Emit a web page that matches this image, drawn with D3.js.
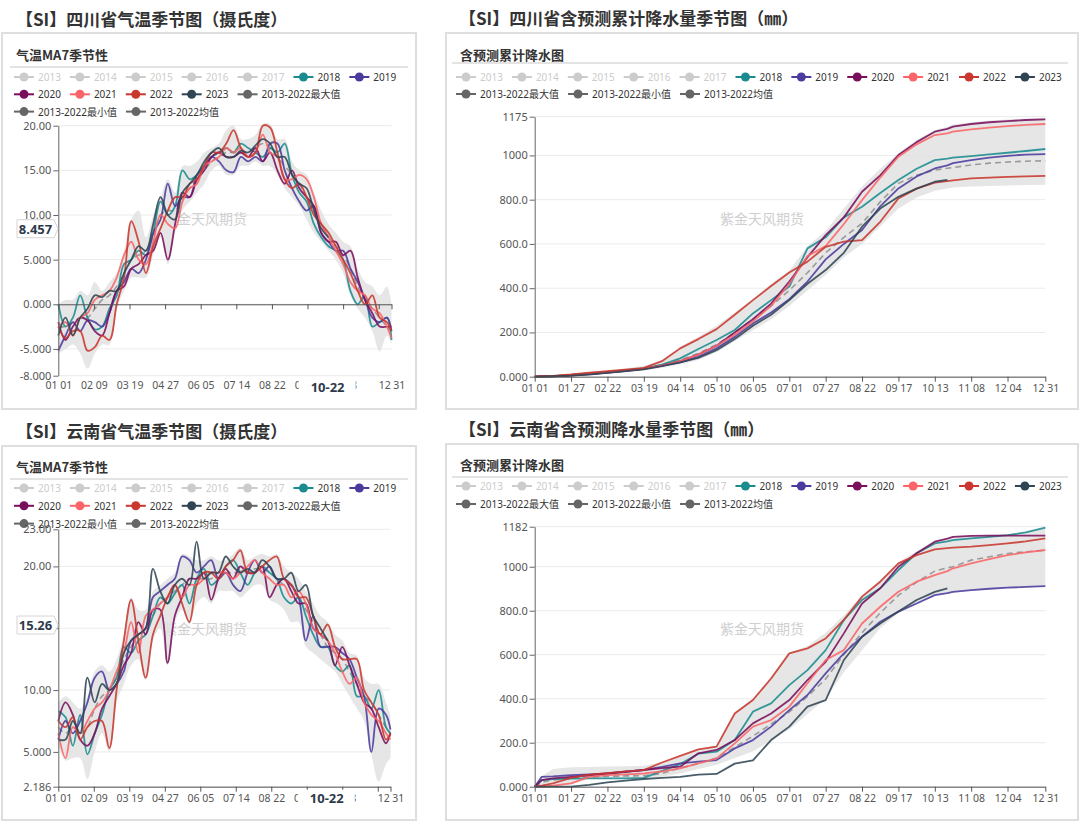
<!DOCTYPE html>
<html><head><meta charset="utf-8">
<script src="https://cdn.jsdelivr.net/npm/d3@7"></script>
<style>
body{margin:0;background:#fff;}
svg{display:block;font-family:"Noto Sans","Noto Sans CJK SC",sans-serif;}
</style>
</head><body>
<svg id="chart" width="1080" height="823"></svg>
<script>
// ---------------- DATA ----------------
const legendNames = ["2013","2014","2015","2016","2017","2018","2019","2020","2021","2022","2023","2013-2022最大值","2013-2022最小值","2013-2022均值"];
const hiddenNames = ["2013","2014","2015","2016","2017"];
const yearNames = ["2018","2019","2020","2021","2022","2023"];

// temperature: day-of-year samples (leap-year calendar, 0 = 01-01)
const tempDays = [0,8,16,24,32,40,48,56,64,72,80,88,96,104,112,120,128,136,144,152,160,168,176,184,192,200,208,216,224,232,240,248,256,264,272,280,288,296,304,312,320,328,336,344,352,360,365];

// Sichuan temperature MA7 (°C)
const scT2018 = [0,-2.5,-1.5,1,-1.5,-2.8,-2.5,-0.5,1,4.5,5,6,5.5,8,11.5,10,11,15,14,14.5,15.5,16.5,17,17.5,17,18,17.5,17,16.5,17.5,17,18,14.5,12.5,11.5,9,7.5,6.5,6,5,1.5,0,1,-2.5,-2,-1.5,-4];
const scT2019 = [-5.2,-3.5,-2,-3,-1.8,-2,-2.5,-1,1.5,2.5,4,3.5,5,8,9.5,13.5,11,12,12,14.5,15.5,16.5,16,15,14.8,16.5,16,16.5,16,18,18,15,13,11.5,10.5,11,8,7,6,6,4,2.5,0.5,-1.5,-2,-1.5,-3];
const scT2020 = [-2,-4,-2.5,-1.5,-1.8,-3,-3.5,-1,1.5,2,4,4.5,5.5,6,8,5,9,12.5,12,14,15,16.5,17,16.5,16.5,17,16.5,17.5,16,17,15,13.5,15,13,12,11,8,7,7,5.5,6,3,0.5,-1,-2.5,-2.5,-2.5];
const scT2021 = [-2.5,-2,-3.5,-1.5,-1,0.5,1,1.5,3,5.5,7,5,4.5,7,10,9,8.5,11.5,13,13.5,15.5,16,16.5,17.5,17,17.5,16.5,17,19,17,16.5,14,14,14.5,14,12,9,7.5,6,4.5,2.5,1.5,1,-0.5,-1,-2.5,-3.8];
const scT2022 = [-2.5,-3.8,-3,-3,-5.2,-4.8,-3.5,-4,0,3,9.3,7,3.5,6.5,8.5,10.5,12,12,13.5,14,15.5,17,17,18,19.5,17.5,16.5,17,20,19.8,17,14,13,13.5,12,10,9,8,6.5,5,3.5,1.5,0,1,-1.5,-2,-3];
const scT2023 = [-3.5,-1.5,-3.5,-1.5,-0.5,1,0.8,1.5,1.5,3.5,5,6.5,6,9,12,10,9.5,12.5,13.5,14.5,16,17,17.5,16.5,16.5,17.2,17,17.8,18.5,18,16.5,16.5,14.5,13.5,13,10.5,8.5,7.5,null,null,null,null,null,null,null,null,null];
const scTMax = [0,0.5,0.5,1.5,1,2.5,1.5,2.5,3.5,6,9.5,10.5,7.5,10,12,14,12.5,15.5,15.5,16,17,17.5,18,19.5,20,18.5,18.5,19,20.2,20.2,18.5,18.5,16,15,14.5,12.5,10.5,9,8,7,6.5,4,2.5,2,1,2,0];
const scTMin = [-5.5,-5,-4.5,-5.5,-7.2,-5.5,-4.5,-4.5,-0.5,1.5,3,3,3,5.5,7.5,4.5,8,10.5,11.5,12.5,13.5,15,15.5,14.5,14.5,15.5,15.5,16,15.5,15.5,14.5,13,12,11,9.5,8,7,6,5,3.5,1,-0.5,-1.5,-3,-5.3,-3.5,-4.5];
const scTMean = [-2.5,-2.5,-2,-1.5,-1.5,-0.5,0.5,1,2,3.5,5,5.5,6,7.5,10,10.5,10.5,12,13,14,15,16,16.5,17,17,17,17,17.5,18,17.5,16.5,15.5,14.5,13.5,12,10.5,9,7.5,6.5,5.5,4,2,0.5,-0.5,-1.5,-2.5,-3];

// Yunnan temperature MA7 (°C)
const ynT2018 = [8.3,7.8,5.5,8,4.8,6.5,8,10,11,13.5,13,14,14.5,16,17.5,17,17.8,18.5,17,19,19.8,18.5,19,20,20.5,19.5,18.5,19.5,20,19.5,19,17.5,17,17.5,16,14.5,13.5,13.5,12,11.5,12,9.5,9.5,8.5,10,7,6.5];
const ynT2019 = [6,7.5,6.5,7.5,9,11,11.5,10,10.5,11.5,14,14.5,15,17.5,18,18.5,19,20.8,20.5,19.5,20,20.5,19,19.5,18.5,18,19.5,20.5,19.5,20,19,19,18.5,17.5,14,16,13.5,13.5,13.5,13,12.5,11,9.5,5,8.5,8,6.8];
const ynT2020 = [7.5,9,8,6,5.5,6.5,8.5,9.5,10.5,12,13,15.5,14.5,16.5,16.5,12.2,16,17.5,19,19,19.5,17.3,19,19.8,19,20,19.5,19.5,20,17.5,18.5,19,18,17,17,15,14.5,14,12,13.5,12,10.5,9,8.5,7,5.7,6.5];
const ynT2021 = [6.5,4.5,7,6.5,7.5,8.5,9,10,11.5,13,15.5,13,16,16.5,17,17.5,18.5,17.5,18.5,18.5,19,19.5,19.5,19.5,19,19.5,20,20.5,19.5,19,18.5,18.5,17.5,18,17,15,14.5,14,13,11.5,10.5,11,9,8,7.5,6.5,6];
const ynT2022 = [7.5,7,7.8,6,7,7.5,7.5,5.3,10,14,17.3,14,11,14.5,16,17.5,18.5,17,15.5,18.5,19.5,19.5,19,20,20.5,21.3,19.5,19.5,20,20.5,20.8,19,18.5,17.5,17.5,16,14.5,15.3,13.5,12.5,12.5,12.5,10,9,8,6,6.5];
const ynT2023 = [6,6,7.5,6.5,11,9,10.5,10,10.5,13,14,14.5,15,19.8,18,17,18.5,19,18.5,22,19,19.5,19.5,20.8,20,19.5,19.8,19.5,20.5,20,19,19,19.5,18,18.5,16,15,14,null,null,null,null,null,null,null,null,null];
const ynTMax = [9,9.5,9,8.5,9.5,11.5,12,11.5,12.5,14.5,17.5,16.5,16.5,18,18.5,19,19.5,21,20.8,20.5,20.5,20.8,20.5,20.5,21,21.5,20.5,20.8,21,20.8,21,20,19.5,19,18,17,16,15.5,14.5,14,13,12.8,11,10.5,10.5,9,8];
const ynTMin = [5.5,4.3,4.5,4.5,2.8,5,6.5,5,9,10.5,12,12.5,10.8,14,15,12,15.5,16.5,15.3,17,17.5,17,18,18,18,17.5,18,18.5,18.5,17.3,17,16.5,15.5,15.5,13.5,13,12.5,12,11.5,10.5,9.5,8.5,7.5,4.8,2.6,4,4.5];
const ynTMean = [7,6.5,7,6.5,7,8.5,9.5,10,11,12.5,13.5,14.5,15,16,17,17.5,18,18.5,19,19,19,19,19.5,19.5,19.5,19.5,19.5,19.8,19.8,19.5,19,18.5,18.5,17.5,16.5,15.5,14.5,13.5,13,12.5,11.5,10.5,9.5,9,8,7,6.5];

// cumulative precipitation: day samples
const precDays = [0,5,13,26,39,52,65,78,91,104,117,130,143,156,169,182,195,208,221,234,247,260,273,286,295,299,312,325,338,351,365];

// Sichuan cumulative precipitation (mm)
const scP2018 = [0,1,3,8,15,22,30,38,55,83,125,166,211,286,346,407,580,630,720,768,830,889,940,979,986,990,997,1005,1012,1020,1029];
const scP2019 = [0,1,2,6,12,18,25,35,50,65,90,128,180,240,290,350,430,530,600,663,770,851,905,941,955,965,979,990,998,1004,1006];
const scP2020 = [0,1,2,5,12,18,27,36,50,70,100,140,200,260,330,430,540,640,720,836,910,1002,1060,1107,1120,1130,1142,1150,1155,1160,1163];
const scP2021 = [0,1,3,8,14,20,28,36,50,70,100,140,190,250,320,420,545,590,690,798,900,994,1050,1092,1100,1108,1118,1126,1132,1138,1142];
const scP2022 = [0,2,4,10,18,25,32,40,70,128,170,215,280,346,410,471,520,587,610,617,700,806,850,877,884,887,896,900,903,905,908];
const scP2023 = [0,1,2,5,10,17,25,33,48,65,85,120,170,230,280,346,420,482,560,678,760,813,850,881,890,null,null,null,null,null,null];
const scPMax = [0,2,5,12,20,28,38,48,75,135,180,230,290,350,420,480,590,660,760,860,940,1010,1070,1115,1130,1140,1150,1158,1162,1166,1170];
const scPMin = [0,0,1,3,8,14,20,28,40,55,75,110,160,210,260,320,390,460,540,600,680,760,810,840,850,855,860,862,864,866,868];
const scPMean = [0,1,3,7,13,20,28,36,52,75,105,145,200,260,320,390,470,560,630,693,790,874,910,934,942,945,957,965,970,974,976];

// Yunnan cumulative precipitation (mm)
const ynP2018 = [0,30,35,37,38,38,38,40,72,103,150,159,212,341,379,462,530,621,758,849,902,985,1061,1106,1115,1121,1129,1136,1144,1156,1178];
const ynP2019 = [0,45,47,53,56,60,68,76,90,106,114,121,174,212,273,348,417,515,606,682,750,796,833,871,880,886,894,900,905,908,912];
const ynP2020 = [0,30,38,45,52,60,68,76,84,91,152,167,212,288,333,394,485,568,697,833,902,1000,1061,1114,1128,1136,1140,1141,1141,1141,1141];
const ynP2021 = [0,0,5,15,45,53,56,60,70,83,106,129,197,273,303,364,470,576,621,742,818,886,932,962,980,993,1015,1035,1053,1065,1076];
const ynP2022 = [0,5,15,40,55,62,70,75,110,140,170,182,333,394,492,606,629,674,758,864,932,1015,1053,1079,1085,1087,1091,1098,1106,1115,1129];
const ynP2023 = [0,0,0,0,8,20,28,35,40,45,55,58,105,120,212,273,364,394,576,682,742,796,849,886,902,null,null,null,null,null,null];
const ynPMax = [0,48,80,88,90,92,93,95,110,140,170,190,340,400,500,610,640,700,780,870,940,1020,1070,1118,1130,1138,1142,1145,1148,1158,1180];
const ynPMin = [0,0,5,10,35,37,37,38,45,60,80,100,130,160,210,260,330,400,520,620,720,790,830,870,880,885,892,898,903,906,910];
const ynPMean = [0,20,30,40,44,47,49,50,60,85,105,130,180,230,285,340,410,490,600,700,790,870,930,980,995,1000,1030,1045,1060,1068,1075];

// axes
const tempXTicks = [0,39,78,117,156,195,234,273,312,351,365];
const precXTicks = [0,26,52,78,104,130,156,182,208,234,260,286,312,338,365];
const scTYTicks = [-8,-5,0,5,10,15,20];
const ynTYTicks = [2.186,5,10,15,20,23];
const scPYTicks = [0,200,400,600,800,1000,1175];
const ynPYTicks = [0,200,400,600,800,1000,1182];
const pointerDay = 295;
const scTPointer = 8.457;
const ynTPointer = 15.26;

// ---------------- STYLE ----------------
const colors = {"2018":"#1a8c8f","2019":"#4c3b9e","2020":"#7a0f5c","2021":"#fb6468","2022":"#c9372e","2023":"#2f4554"};
const statColor = "#666";
const FONT = '"Noto Sans","Noto Sans CJK SC",sans-serif';

const svg = d3.select("#chart");
const fmt4 = d3.formatLocale({decimal:".",thousands:",",grouping:[3],currency:["",""],minus:"-"}).format(".4r");
const baseDate = new Date(2020,0,1);
const dayLabel = d => d3.timeFormat("%m %d")(d3.timeDay.offset(baseDate,d));
const dayPointer = d => d3.timeFormat("%m-%d")(d3.timeDay.offset(baseDate,d));

function drawPanel(p){
  const g = svg.append("g");
  g.append("rect").attr("x",p.box[0]).attr("y",p.box[1]).attr("width",p.box[2]-p.box[0]).attr("height",p.box[3]-p.box[1])
    .attr("fill","#fff").attr("stroke","#dedede").attr("stroke-width",2);
  svg.append("text").attr("x",p.titlePos[0]).attr("y",p.titlePos[1]).attr("dominant-baseline","central")
    .attr("font-size",17).attr("font-weight","bold").attr("fill","#333").attr("font-family",'"Noto Sans CJK SC",sans-serif').text(p.title);
  g.append("text").attr("x",p.subPos[0]).attr("y",p.subPos[1]).attr("dominant-baseline","central")
    .attr("font-size",13).attr("font-weight","bold").attr("fill","#333").attr("font-family",'"Noto Sans CJK SC",sans-serif').text(p.sub);
  g.append("line").attr("x1",p.sep[0]).attr("x2",p.sep[1]).attr("y1",p.sep[2]).attr("y2",p.sep[2]).attr("stroke","#c8c8c8");

  // legend
  let lx = p.legend[0], ly = p.legend[1];
  legendNames.forEach(name=>{
    const off = hiddenNames.includes(name);
    const col = off ? "#ccc" : (colors[name] || statColor);
    const t = g.append("text").attr("font-size",10).attr("font-family",FONT).text(name);
    const w = t.node().getComputedTextLength();
    if (lx + 24 + w > p.legend[2]) { lx = p.legend[0]; ly += p.legend[3]; }
    t.attr("x",lx+24).attr("y",ly).attr("dominant-baseline","central").attr("fill",off?"#ccc":"#333");
    g.append("line").attr("x1",lx).attr("x2",lx+20).attr("y1",ly).attr("y2",ly).attr("stroke",col).attr("stroke-width",2);
    g.append("circle").attr("cx",lx+10).attr("cy",ly).attr("r",4.5).attr("fill",col);
    lx += 24 + w + 9;
  });

  const [L,T,R,B] = p.plot;
  const x = d3.scaleLinear().domain([0,365]).range([L,R]);
  const y = d3.scaleLinear().domain(p.yDomain).range([B,T]);

  // grid
  g.append("g").selectAll("line").data(p.yTicks).join("line")
    .attr("x1",L).attr("x2",R).attr("y1",d=>y(d)).attr("y2",d=>y(d)).attr("stroke","#ebebeb");

  // watermark
  g.append("text").attr("x",p.wm[0]).attr("y",p.wm[1]).attr("text-anchor","middle").attr("dominant-baseline","central")
    .attr("font-size",14).attr("fill","#cfcfcf").attr("font-family",'"Noto Sans CJK SC",sans-serif').text("紫金天风期货");

  const curve = p.curve;
  const days = p.days;
  const area = d3.area().x((d,i)=>x(days[i])).y0((d,i)=>y(p.min[i])).y1((d,i)=>y(p.max[i])).curve(curve);
  g.append("path").attr("d",area(p.max)).attr("fill","#e2e2e2").attr("opacity",0.85);
  const line = d3.line().defined(v=>v!=null).x((d,i)=>x(days[i])).y(d=>y(d)).curve(curve);
  g.append("path").attr("d",line(p.mean)).attr("fill","none").attr("stroke","#9a9a9a").attr("stroke-width",1.6).attr("stroke-dasharray","6,4");
  yearNames.forEach((nm,k)=>{
    g.append("path").attr("d",line(p.series[k])).attr("fill","none").attr("stroke",colors[nm])
      .attr("stroke-width",1.8).attr("stroke-opacity",0.88).attr("stroke-linejoin","round");
  });

  // y axis
  const ya = g.append("g").attr("transform",`translate(${L},0)`)
    .call(d3.axisLeft(y).tickValues(p.yTicks).tickFormat(fmt4).tickSize(5).tickSizeOuter(0).tickPadding(2));
  ya.attr("font-family",FONT).attr("font-size",11);
  ya.select(".domain").attr("stroke","#666");
  ya.selectAll(".tick line").attr("stroke","#666");
  ya.selectAll(".tick text").attr("fill","#555");

  // x axis
  const axisY = p.zeroAxis ? y(0) : B;
  const xa = g.append("g").attr("transform",`translate(0,${axisY})`)
    .call(d3.axisBottom(x).tickValues(p.xTicks).tickFormat(p.zeroAxis ? "" : p.xFmt).tickSize(5).tickSizeOuter(0).tickPadding(3));
  xa.attr("font-family",FONT).attr("font-size",10.5);
  xa.select(".domain").attr("stroke","#555");
  xa.selectAll(".tick line").attr("stroke","#555");
  xa.selectAll(".tick text").attr("fill","#555");
  if (p.zeroAxis){
    const xl = g.append("g").attr("transform",`translate(0,${B})`)
      .call(d3.axisBottom(x).tickValues(p.xTicks).tickFormat(p.xFmt).tickSize(0).tickPadding(6));
    xl.attr("font-family",FONT).attr("font-size",10.5);
    xl.select(".domain").remove();
    xl.selectAll(".tick text").attr("fill","#555");
  }

  // axis pointer labels
  if (p.pointerY != null){
    const py = y(p.pointerY);
    const bx0 = 17, bx1 = 54, h = 9;
    g.append("path").attr("d",`M${bx0},${py-h} L${bx1},${py-h} L${bx1+4},${py} L${bx1},${py+h} L${bx0},${py+h} Z`)
      .attr("fill","#fff").attr("stroke","#d5d5d5");
    g.append("text").attr("x",(bx0+bx1)/2).attr("y",py).attr("text-anchor","middle").attr("dominant-baseline","central")
      .attr("font-size",13).attr("font-weight","bold").attr("fill","#2e3a4c").attr("font-family",FONT).text(fmt4(p.pointerY));
    const px = x(pointerDay);
    g.append("rect").attr("x",px-29).attr("y",B+3).attr("width",57).attr("height",17).attr("fill","#fff");
    g.append("text").attr("x",px).attr("y",B+11).attr("text-anchor","middle").attr("dominant-baseline","central")
      .attr("font-size",13).attr("font-weight","bold").attr("fill","#2e3a4c").attr("font-family",FONT).text(dayPointer(pointerDay));
  }
}

const tempFmt = d => d===351 ? "" : dayLabel(d);

drawPanel({
  box:[2,33,416,409], title:"【SI】四川省气温季节图（摄氏度）", titlePos:[16,18], sub:"气温MA7季节性", subPos:[16,54],
  sep:[10,408,67], legend:[14,77,410,17.3], plot:[58.3,125.7,391.5,375.7], yDomain:[-8,20], yTicks:scTYTicks,
  xTicks:tempXTicks, xFmt:tempFmt, zeroAxis:true, wm:[205,218], curve:d3.curveCatmullRom.alpha(0.5),
  days:tempDays, series:[scT2018,scT2019,scT2020,scT2021,scT2022,scT2023], max:scTMax, min:scTMin, mean:scTMean, pointerY:scTPointer
});
drawPanel({
  box:[2,446,416,820], title:"【SI】云南省气温季节图（摄氏度）", titlePos:[16,430], sub:"气温MA7季节性", subPos:[16,466],
  sep:[10,408,479], legend:[14,488,410,17.8], plot:[58.3,529.3,390.5,786.7], yDomain:[2.186,23], yTicks:ynTYTicks,
  xTicks:tempXTicks, xFmt:tempFmt, zeroAxis:false, wm:[205,628], curve:d3.curveCatmullRom.alpha(0.5),
  days:tempDays, series:[ynT2018,ynT2019,ynT2020,ynT2021,ynT2022,ynT2023], max:ynTMax, min:ynTMin, mean:ynTMean, pointerY:ynTPointer
});
drawPanel({
  box:[446,33,1078,409], title:"【SI】四川省含预测累计降水量季节图（㎜）", titlePos:[459,17], sub:"含预测累计降水图", subPos:[460,54],
  sep:[452,1068,63], legend:[456,77,1075,17], plot:[534.7,116.7,1045.3,376.7], yDomain:[0,1175], yTicks:scPYTicks,
  xTicks:precXTicks, xFmt:dayLabel, zeroAxis:false, wm:[762,218], curve:d3.curveLinear,
  days:precDays, series:[scP2018,scP2019,scP2020,scP2021,scP2022,scP2023], max:scPMax, min:scPMin, mean:scPMean, pointerY:null
});
drawPanel({
  box:[446,444,1078,820], title:"【SI】云南省含预测降水量季节图（㎜）", titlePos:[459,428], sub:"含预测累计降水图", subPos:[460,464],
  sep:[452,1068,477], legend:[456,486,1075,18], plot:[534.7,526.7,1045.3,786.7], yDomain:[0,1182], yTicks:ynPYTicks,
  xTicks:precXTicks, xFmt:dayLabel, zeroAxis:false, wm:[762,628], curve:d3.curveLinear,
  days:precDays, series:[ynP2018,ynP2019,ynP2020,ynP2021,ynP2022,ynP2023], max:ynPMax, min:ynPMin, mean:ynPMean, pointerY:null
});
</script>
</body></html>
